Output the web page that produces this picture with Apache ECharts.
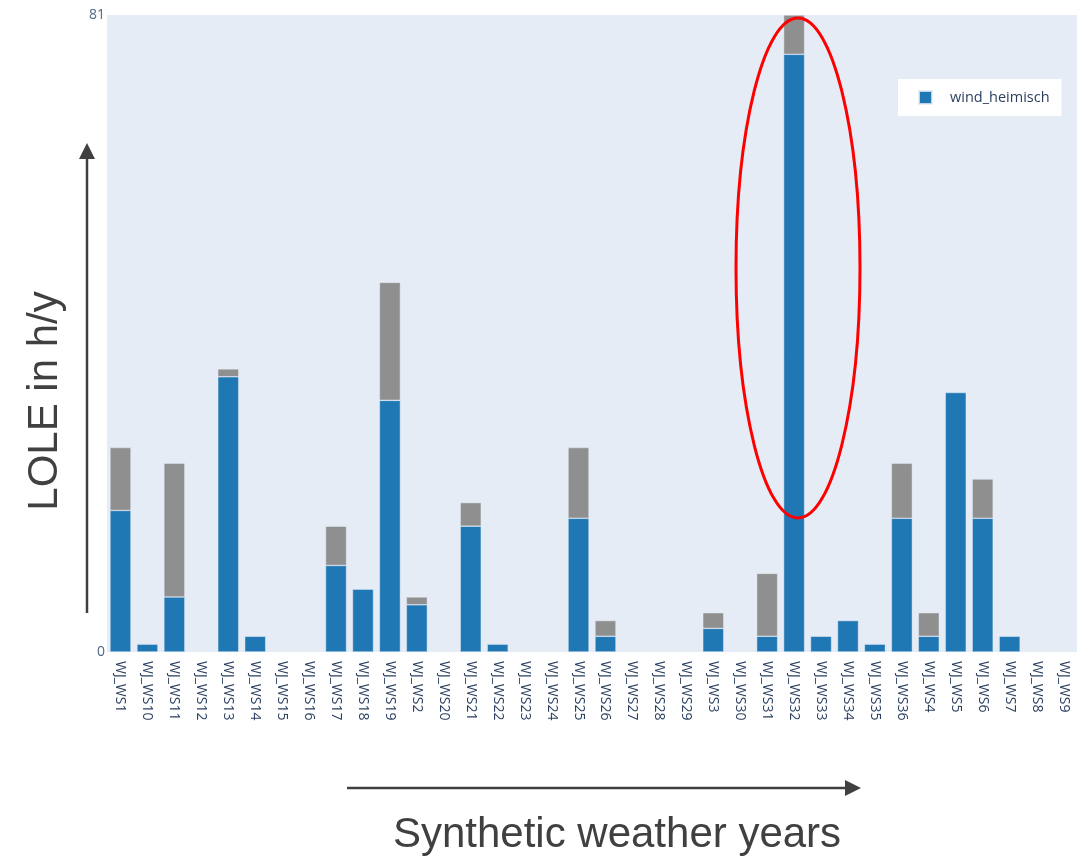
<!DOCTYPE html>
<html>
<head>
<meta charset="utf-8">
<script src="https://cdn.jsdelivr.net/npm/echarts@6/dist/echarts.min.js"></script>
<style>html,body{margin:0;padding:0;background:#fff}#c{width:1089px;height:858px}</style>
</head>
<body>
<div id="c"></div>
<script>
var categories = ['WJ_WS1','WJ_WS10','WJ_WS11','WJ_WS12','WJ_WS13','WJ_WS14','WJ_WS15','WJ_WS16','WJ_WS17','WJ_WS18','WJ_WS19','WJ_WS2','WJ_WS20','WJ_WS21','WJ_WS22','WJ_WS23','WJ_WS24','WJ_WS25','WJ_WS26','WJ_WS27','WJ_WS28','WJ_WS29','WJ_WS3','WJ_WS30','WJ_WS31','WJ_WS32','WJ_WS33','WJ_WS34','WJ_WS35','WJ_WS36','WJ_WS4','WJ_WS5','WJ_WS6','WJ_WS7','WJ_WS8','WJ_WS9'];
var windHeimisch = [18,1,7,0,35,2,0,0,11,8,32,6,0,16,1,0,0,17,2,0,0,0,3,0,2,76,2,4,1,17,2,33,17,2,0,0];
var other = [8,0,17,0,1,0,0,0,5,0,15,1,0,3,0,0,0,9,2,0,0,0,2,0,8,5,0,0,0,7,3,0,5,0,0,0];
var yTicks = [0, 81];

function noZero(arr) { return arr.map(function (v) { return v === 0 ? '-' : v; }); }

var chart = echarts.init(document.getElementById('c'), null, {renderer:'canvas'});
var darkText = '#404040';
chart.setOption({
  animation: false,
  backgroundColor: '#ffffff',
  grid: {left: 107, right: 12, top: 15, bottom: 206, show: true, backgroundColor: '#E5ECF6', borderWidth: 0},
  legend: {
    data: ['wind_heimisch'],
    left: 898, top: 79,
    backgroundColor: '#ffffff',
    padding: [11, 12, 11, 20],
    itemWidth: 13, itemHeight: 13,
    icon: 'rect',
    textStyle: {fontFamily: 'Open Sans', fontSize: 14.5, color: '#2a3f5f', padding: [0, 0, 0, 13]}
  },
  xAxis: {
    type: 'category', data: categories,
    axisLine: {show: false}, axisTick: {show: false},
    axisLabel: {rotate: -90, interval: 0, margin: 9, fontFamily: 'Open Sans', fontSize: 14, color: '#2a3f5f'}
  },
  yAxis: {
    type: 'value', min: yTicks[0], max: yTicks[1], interval: yTicks[1] - yTicks[0],
    axisLine: {show: false}, axisTick: {show: false}, splitLine: {show: false},
    axisLabel: {fontFamily: 'Open Sans', fontSize: 14, color: '#506784', margin: 2,
      formatter: function (v) { return yTicks.indexOf(v) >= 0 ? String(v) : ''; }}
  },
  series: [
    {name: 'wind_heimisch', type: 'bar', stack: 's', data: noZero(windHeimisch), barCategoryGap: '22%',
      itemStyle: {color: '#1F77B4', borderColor: 'rgba(230,236,246,0.8)', borderWidth: 0.6}},
    {name: 'other', type: 'bar', stack: 's', data: noZero(other), barCategoryGap: '22%',
      itemStyle: {color: '#8F8F8F', borderColor: 'rgba(230,236,246,0.8)', borderWidth: 0.6}}
  ],
  graphic: [
    {type: 'ellipse', shape: {cx: 798, cy: 268, rx: 62, ry: 250}, z: 100,
      style: {fill: 'none', stroke: '#FF0000', lineWidth: 3}},
    {type: 'line', shape: {x1: 87, y1: 613, x2: 87, y2: 156}, style: {stroke: darkText, lineWidth: 2.5}, z: 100},
    {type: 'polygon', shape: {points: [[87, 143], [79, 159], [95, 159]]}, style: {fill: darkText}, z: 100},
    {type: 'line', shape: {x1: 347, y1: 788, x2: 848, y2: 788}, style: {stroke: darkText, lineWidth: 2.5}, z: 100},
    {type: 'polygon', shape: {points: [[861, 788], [845, 780], [845, 796]]}, style: {fill: darkText}, z: 100},
    {type: 'text', x: 45, y: 401, rotation: Math.PI / 2, z: 100,
      style: {text: 'LOLE in h/y', fontFamily: 'Liberation Sans, Arial', fontSize: 42, fill: darkText, align: 'center', verticalAlign: 'middle'}},
    {type: 'text', x: 617, y: 835, z: 100,
      style: {text: 'Synthetic weather years', fontFamily: 'Liberation Sans, Arial', fontSize: 42, fill: darkText, align: 'center', verticalAlign: 'middle'}}
  ]
});
</script>
</body>
</html>
